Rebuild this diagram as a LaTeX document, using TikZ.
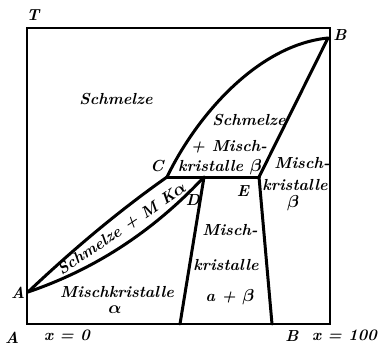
\documentclass[tikz,border=0pt]{standalone}
\usepackage{amsmath}
\usepackage{amssymb}
\begin{document}
\begin{tikzpicture}[x=1pt,y=-1pt,
  phase/.style={line width=3pt,line join=round,line cap=round},
  frame/.style={line width=1.3pt},
  lbl/.style={font=\fontsize{16}{18}\selectfont\bfseries\itshape,inner sep=0pt,align=center},
  pt/.style={font=\fontsize{16}{18}\selectfont\bfseries\itshape,inner sep=0pt}]
\useasboundingbox (0,0) rectangle (379,346);
% frame
\coordinate (TL) at (27,28);
\coordinate (TR) at (330,28);
\coordinate (BL) at (27,324);
\coordinate (BR) at (330,324);
\draw[frame] (TL) -- (TR) -- (BR) -- (BL) -- cycle;
% key points
\coordinate (A) at (28,292);
\coordinate (B) at (328,38);
\coordinate (C) at (167,177);
\coordinate (D) at (204,177);
\coordinate (E) at (259,177);
\coordinate (Dl) at (180,324);
\coordinate (El) at (272,324);
% liquidus
\draw[phase] (A) .. controls (72.5,250) and (118,211.5) .. (C);
\draw[phase] (C) .. controls (197,115) and (258,45) .. (B);
% solidus alpha
\draw[phase] (A) .. controls (95.3,269.1) and (153.3,231.1) .. (D);
% solidus beta
\draw[phase] (E) -- (B);
% eutectic
\draw[phase] (C) -- (E);
% solvus
\draw[phase] (D) -- (Dl);
\draw[phase] (E) -- (El);
% labels
\node[pt] (lT) at (33,15) {T};
\node[pt] (lA) at (18,293) {A};
\node[pt] (lB) at (340,35) {B};
\node[pt] (lC) at (157,166) {C};
\node[pt] (lD) at (193,200) {D};
\node[pt] (lE) at (243,191) {E};
\node[lbl] (s1) at (116,99) {Schmelze};
\node[lbl] (s2) at (249,120) {Schmelze};
\node[lbl] (s3) at (229,147) {+ Misch-};
\node[lbl] (s4) at (220,167) {kristalle $\boldsymbol\beta$};
\node[lbl] (r1) at (302,163) {Misch-};
\node[lbl] (r2) at (295,185) {kristalle};
\node[lbl] (r3) at (293,203) {$\boldsymbol\beta$};
\node[lbl] (m1) at (230,230) {Misch-};
\node[lbl] (m2) at (226,265) {kristalle};
\node[lbl] (m3) at (230,297) {a + $\boldsymbol\beta$};
\node[lbl] (l1) at (117,292) {Mischkristalle};
\node[lbl] (l2) at (115,310) {$\boldsymbol\alpha$};
\node[lbl,rotate=34] (band) at (122,229) {Schmelze + M K$\boldsymbol\alpha$};
\node[pt] (bA) at (12,338) {A};
\node[lbl] (bx0) at (67,335) {x = 0};
\node[pt] (bB) at (292,336) {B};
\node[lbl,anchor=east] (bx1) at (377,335) {x = 100};
\end{tikzpicture}
\end{document}
